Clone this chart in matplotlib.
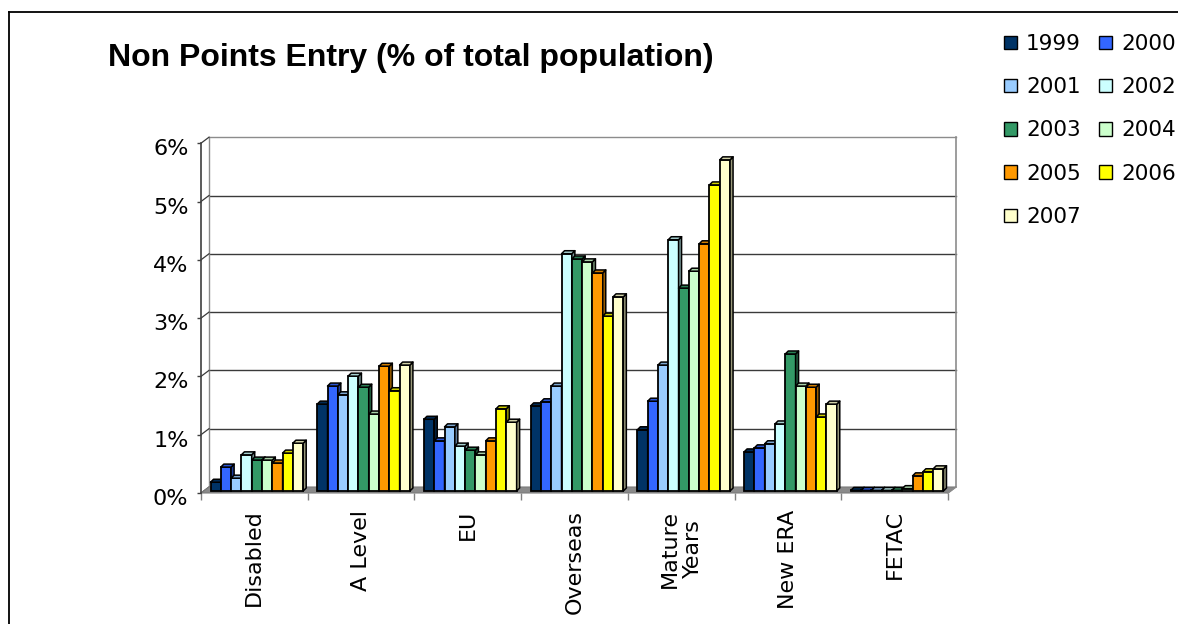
import matplotlib
matplotlib.use("Agg")
import matplotlib.pyplot as plt
from matplotlib.patches import Polygon, Patch
from matplotlib.collections import PolyCollection
from matplotlib.lines import Line2D
from matplotlib.transforms import ScaledTranslation
import matplotlib.colors as mcolors
import numpy as np

# ---- data -------------------------------------------------------------
categories = ["Disabled", "A Level", "EU", "Overseas", "Mature\nYears", "New ERA", "FETAC"]
years = ["1999", "2000", "2001", "2002", "2003", "2004", "2005", "2006", "2007"]

# share of total population (%) per entry route, one list per year
v1999 = [0.15, 1.49, 1.23, 1.46, 1.05, 0.67, 0.01]
v2000 = [0.41, 1.80, 0.86, 1.53, 1.54, 0.74, 0.01]
v2001 = [0.22, 1.65, 1.10, 1.80, 2.16, 0.81, 0.01]
v2002 = [0.62, 1.97, 0.77, 4.07, 4.31, 1.15, 0.01]
v2003 = [0.53, 1.78, 0.70, 3.98, 3.48, 2.35, 0.01]
v2004 = [0.53, 1.32, 0.62, 3.93, 3.77, 1.80, 0.04]
v2005 = [0.48, 2.14, 0.86, 3.74, 4.24, 1.78, 0.26]
v2006 = [0.65, 1.72, 1.41, 3.00, 5.25, 1.27, 0.33]
v2007 = [0.82, 2.16, 1.18, 3.33, 5.68, 1.49, 0.38]
series = [v1999, v2000, v2001, v2002, v2003, v2004, v2005, v2006, v2007]

colors = ["#003366", "#3366FF", "#99CCFF", "#CCFFFF", "#339966",
          "#CCFFCC", "#FF9900", "#FFFF00", "#FFFFCC"]

ytick_vals = [0, 1, 2, 3, 4, 5, 6]

# ---- figure -----------------------------------------------------------
W, H = 1178, 624
fig = plt.figure(figsize=(W / 100, H / 100), dpi=100)
fig.patch.set_facecolor("white")

# front plane of the plot area (pixels)
x_left, x_right = 201, 948
y_zero, y_top = 493, 143.2
ax = fig.add_axes([x_left / W, 1 - y_zero / H, (x_right - x_left) / W, (y_zero - y_top) / H])
ncat = len(categories)
ymax = 6.0
ax.set_xlim(0, ncat)
ax.set_ylim(0, ymax)
for s in ax.spines.values():
    s.set_visible(False)
ax.patch.set_alpha(0)

sx = (x_right - x_left) / ncat      # pixels per category
sy = (y_zero - y_top) / ymax        # pixels per percent

# depth offsets converted to data units
bx, by = 8 / sx, 6 / sy             # back wall
fx, fy = 2.5 / sx, 2 / sy           # bar front faces
dx, dy = 3 / sx, 3 / sy             # bar depth

grid_c = "#3a3a3a"
wall_c = "#8c8c8c"

# floor
ax.add_patch(Polygon([(0, 0), (ncat, 0), (ncat + bx, by), (bx, by)], closed=True,
                     facecolor="#8a8a8a", edgecolor="#7a7a7a", lw=0.8, zorder=1, clip_on=False))
# back wall gridlines and side wall diagonals
for v in ytick_vals:
    c = wall_c if v == ymax else grid_c
    if v > 0:
        ax.plot([bx, ncat + bx], [v + by, v + by], color=c, lw=1.0, zorder=0.5, clip_on=False)
    ax.plot([0, bx], [v, v + by], color=grid_c, lw=0.9, zorder=0.6, clip_on=False)
ax.plot([bx, bx], [by, ymax + by], color=wall_c, lw=1.0, zorder=0.5, clip_on=False)
ax.plot([ncat + bx, ncat + bx], [by, ymax + by], color=wall_c, lw=1.2, zorder=0.5, clip_on=False)
ax.plot([ncat, ncat + bx], [0, by], color=wall_c, lw=1.0, zorder=1.2, clip_on=False)
# front value axis
ax.plot([0, 0], [0, ymax], color="#404040", lw=1.2, zorder=2, clip_on=False)

# ---- bars -------------------------------------------------------------
nser = len(series)
bar_w = 0.0965
centers = np.arange(ncat) + 0.5


def shade(c, f):
    r, g, b = mcolors.to_rgb(c)
    return (r * f, g * f, b * f)


for j, (vals, col) in enumerate(zip(series, colors)):
    z = 3 + j * 0.1
    lefts = centers - nser * bar_w / 2 + j * bar_w + fx
    vals = np.asarray(vals)
    ax.bar(lefts, vals, width=bar_w, bottom=fy, align="edge", color=col,
           edgecolor="black", linewidth=1.3, zorder=z, clip_on=False)
    tops, sides = [], []
    for xl, v in zip(lefts, vals):
        xr = xl + bar_w
        yb, yt = fy, fy + v
        tops.append([(xl, yt), (xr, yt), (xr + dx, yt + dy), (xl + dx, yt + dy)])
        sides.append([(xr, yb), (xr + dx, yb + dy), (xr + dx, yt + dy), (xr, yt)])
    ax.add_collection(PolyCollection(tops, facecolors=[shade(col, 0.82)], edgecolors="black",
                                     linewidths=1.1, zorder=z + 0.02, clip_on=False))
    ax.add_collection(PolyCollection(sides, facecolors=[shade(col, 0.6)], edgecolors="black",
                                     linewidths=1.1, zorder=z + 0.01, clip_on=False))

# ---- axes ticks and labels ---------------------------------------------
ax.set_yticks(ytick_vals)
ax.set_yticklabels([f"{v}%" for v in ytick_vals])
ax.tick_params(axis="y", length=3, width=1, color="#404040", pad=6, labelsize=16)
for lbl in ax.get_yticklabels():
    lbl.set_transform(lbl.get_transform() + ScaledTranslation(0, -4 / 100, fig.dpi_scale_trans))

ax.set_xticks(centers)
ax.set_xticklabels(categories, rotation=90, ha="center", va="top", multialignment="center")
ax.set_xticks(np.arange(ncat + 1), minor=True)
ax.tick_params(axis="x", which="major", length=0, pad=12, labelsize=16)
ax.tick_params(axis="x", which="minor", length=5, width=1, color="#808080")

# ---- legend -----------------------------------------------------------
handles = [Patch(facecolor=c, edgecolor="black", linewidth=1.0) for c in colors]
order = [0, 2, 4, 6, 8, 1, 3, 5, 7]
fig.legend([handles[i] for i in order], [years[i] for i in order],
           loc="upper left", bbox_to_anchor=(1004 / W, 1 - 34 / H), ncol=2,
           frameon=False, fontsize=15.5, borderpad=0, borderaxespad=0,
           handlelength=0.6, handleheight=0.6, handletextpad=0.42,
           columnspacing=0.85, labelspacing=1.08)

# ---- title and outer frame -------------------------------------------
fig.text(108 / W, 1 - 58 / H, "Non Points Entry (% of total population)",
         fontsize=23, fontweight="bold", family="Liberation Sans", va="center", ha="left")
fig.add_artist(Line2D([9 / W, 9 / W], [0, 1 - 12 / H], color="black", lw=1.3))
fig.add_artist(Line2D([9 / W, 1], [1 - 12 / H, 1 - 12 / H], color="black", lw=1.3))

fig.savefig("out.png", dpi=100)
